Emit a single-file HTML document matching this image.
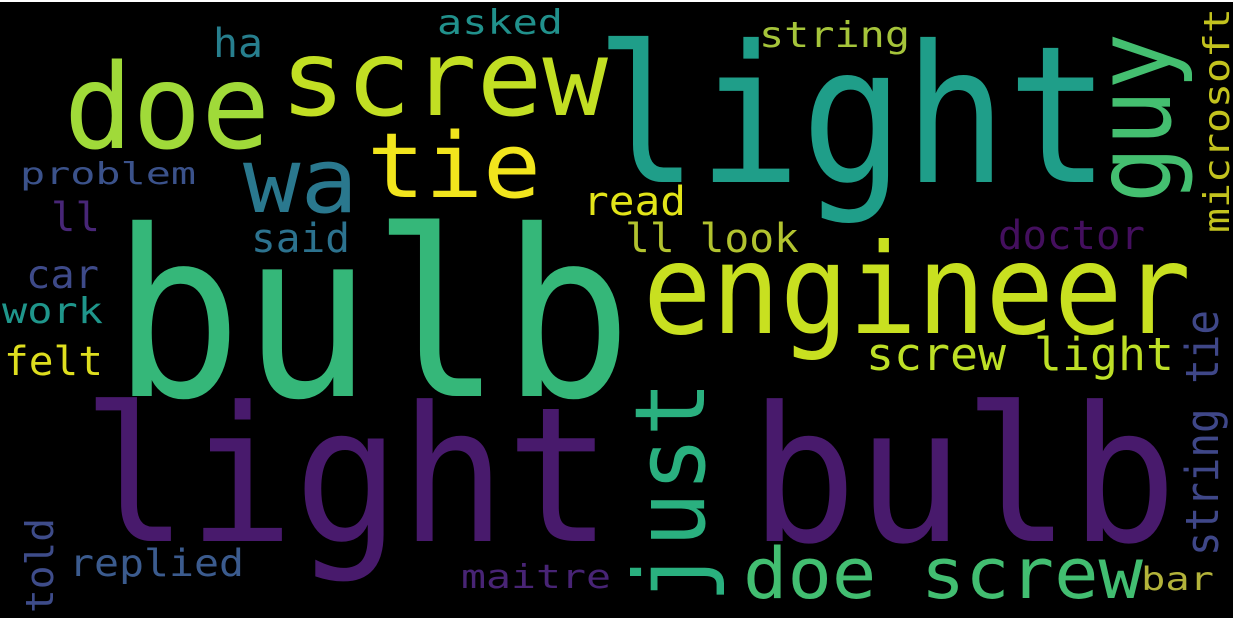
<!DOCTYPE html>
<html><head><meta charset="utf-8"><style>
html,body{margin:0;padding:0;background:#fff;}
svg{display:block;}
text{font-family:"DejaVu Sans Mono","Liberation Mono",monospace;}
</style></head><body>
<svg width="1233" height="618" viewBox="0 0 1233 618">
<rect x="0" y="2" width="1233" height="616" fill="#000"/>
<g lengthAdjust="spacingAndGlyphs">
<text x="595" y="182" font-size="191" textLength="515" lengthAdjust="spacingAndGlyphs" fill="#1f9e89">light</text>
<text x="112" y="396" font-size="232" textLength="520" lengthAdjust="spacingAndGlyphs" fill="#35b779">bulb</text>
<text x="82" y="541" font-size="188" textLength="530" lengthAdjust="spacingAndGlyphs" fill="#481a6c">light</text>
<text x="750" y="541" font-size="188" textLength="427" lengthAdjust="spacingAndGlyphs" fill="#481a6c">bulb</text>
<text x="643" y="333" font-size="125" textLength="548" lengthAdjust="spacingAndGlyphs" fill="#c8e020">engineer</text>
<text x="64" y="148" font-size="118" textLength="206" lengthAdjust="spacingAndGlyphs" fill="#a0da39">doe</text>
<text x="280" y="115" font-size="105" textLength="328" lengthAdjust="spacingAndGlyphs" fill="#c2df23">screw</text>
<text x="243" y="212" font-size="90" textLength="115" lengthAdjust="spacingAndGlyphs" fill="#2a788e">wa</text>
<text x="367" y="197" font-size="90" textLength="174" lengthAdjust="spacingAndGlyphs" fill="#f1e51d">tie</text>
<text x="743" y="598" font-size="70" textLength="400" lengthAdjust="spacingAndGlyphs" fill="#42be71">doe screw</text>
<text x="866" y="370" font-size="45" textLength="308" lengthAdjust="spacingAndGlyphs" fill="#bddf26">screw light</text>
<text x="437" y="34" font-size="34" textLength="126" lengthAdjust="spacingAndGlyphs" fill="#21918c">asked</text>
<text x="213" y="57" font-size="40" textLength="50" lengthAdjust="spacingAndGlyphs" fill="#277f8e">ha</text>
<text x="759" y="47" font-size="36" textLength="151" lengthAdjust="spacingAndGlyphs" fill="#a5c43a">string</text>
<text x="20" y="184" font-size="30" textLength="176" lengthAdjust="spacingAndGlyphs" fill="#3b528b">problem</text>
<text x="51" y="231" font-size="40" textLength="49" lengthAdjust="spacingAndGlyphs" fill="#482677">ll</text>
<text x="251" y="252" font-size="40" textLength="99" lengthAdjust="spacingAndGlyphs" fill="#2c728e">said</text>
<text x="26" y="288" font-size="39" textLength="73" lengthAdjust="spacingAndGlyphs" fill="#3e4a89">car</text>
<text x="2" y="323" font-size="36" textLength="101" lengthAdjust="spacingAndGlyphs" fill="#1f968b">work</text>
<text x="4" y="375" font-size="40" textLength="99" lengthAdjust="spacingAndGlyphs" fill="#dede1f">felt</text>
<text x="583" y="215" font-size="40" textLength="103" lengthAdjust="spacingAndGlyphs" fill="#e2e419">read</text>
<text x="625" y="252" font-size="40" textLength="174" lengthAdjust="spacingAndGlyphs" fill="#b2c32f">ll look</text>
<text x="998" y="249" font-size="40" textLength="147" lengthAdjust="spacingAndGlyphs" fill="#440f5e">doctor</text>
<text x="69" y="576" font-size="37" textLength="175" lengthAdjust="spacingAndGlyphs" fill="#3b5b8e">replied</text>
<text x="461" y="588" font-size="33" textLength="150" lengthAdjust="spacingAndGlyphs" fill="#482475">maitre</text>
<text x="1141" y="590" font-size="32" textLength="73" lengthAdjust="spacingAndGlyphs" fill="#b3b33a">bar</text>
<text transform="translate(704,603) rotate(-90)" x="0" y="0" font-size="97" textLength="222" lengthAdjust="spacingAndGlyphs" fill="#2ab07f">just</text>
<text transform="translate(1170,203) rotate(-90)" x="0" y="0" font-size="105" textLength="170" lengthAdjust="spacingAndGlyphs" fill="#44bf70">guy</text>
<text transform="translate(1229,233) rotate(-90)" x="0" y="0" font-size="36" textLength="225" lengthAdjust="spacingAndGlyphs" fill="#c2c21e">microsoft</text>
<text transform="translate(1218,556) rotate(-90)" x="0" y="0" font-size="45" textLength="246" lengthAdjust="spacingAndGlyphs" fill="#3f4788">string tie</text>
<text transform="translate(53,613) rotate(-90)" x="0" y="0" font-size="38" textLength="95" lengthAdjust="spacingAndGlyphs" fill="#3e4c8a">told</text>
</g>
</svg>
</body></html>
